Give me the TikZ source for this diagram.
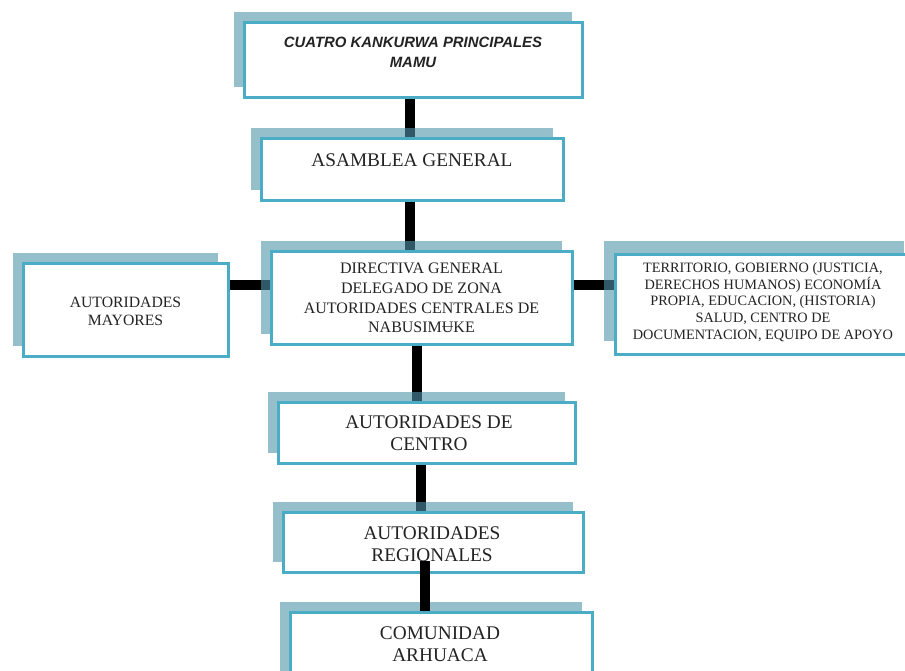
\documentclass[tikz,border=0pt]{standalone}
\usepackage{fontspec}
\setmainfont{Liberation Serif}
\newfontfamily\arialfont{Liberation Sans}
\definecolor{boxborder}{RGB}{75,172,198}
\definecolor{shadowbase}{RGB}{80,148,170}
\definecolor{txtc}{RGB}{35,35,35}
\pgfdeclarelayer{background}
\pgfsetlayers{background,main}
\tikzset{
  orgbox/.style={draw=boxborder, line width=3pt, fill=white, inner sep=0pt,
    preaction={draw=none, fill=shadowbase, fill opacity=0.6,
      transform canvas={shift={#1}}}},
  orgbox/.default={(-10pt,10pt)},
  conn/.style={draw=black, line width=10pt},
  txt/.style={text=txtc, align=center, inner sep=0pt},
  bigtxt/.style={txt, font=\fontsize{19.3}{21.5}\selectfont},
}
\begin{document}
\begin{tikzpicture}[x=1pt,y=-1pt]
\path[use as bounding box, clip] (0,0) rectangle (905,670);

% boxes
\node[orgbox, minimum width=338pt, minimum height=75pt] (b1) at (413,59.5) {};
\node[orgbox, minimum width=302pt, minimum height=62pt] (b2) at (412,169) {};
\node[orgbox, minimum width=301pt, minimum height=93pt] (b3) at (421.5,297.5) {};
\node[orgbox, minimum width=205pt, minimum height=93pt] (bl) at (125.5,309.5) {};
\node[orgbox={(-11pt,13pt)}, minimum width=300pt, minimum height=100pt] (br) at (765,304) {};
\node[orgbox, minimum width=297pt, minimum height=61pt] (b4) at (426.5,432.5) {};
\node[orgbox, minimum width=300pt, minimum height=60pt] (b5) at (433,542) {};
\node[orgbox, minimum width=302pt, minimum height=100pt] (b6) at (441,662) {};

% texts
\node[txt, font=\arialfont\bfseries\itshape\fontsize{14.9}{19.5}\selectfont] (t1) at (413,52.5)
  {CUATRO KANKURWA PRINCIPALES\\MAMU};
\node[bigtxt] (t2) at (412,160) {ASAMBLEA GENERAL};
\node[txt, font=\fontsize{16}{19.7}\selectfont] (t3) at (421.5,298)
  {DIRECTIVA GENERAL\\DELEGADO DE ZONA\\AUTORIDADES CENTRALES DE\\NABUSIMɄKE};
\node[txt, font=\fontsize{15.7}{18}\selectfont] (tl) at (125.5,311)
  {AUTORIDADES\\MAYORES};
\node[txt, font=\fontsize{14.3}{16.8}\selectfont] (tr) at (763,302)
  {TERRITORIO, GOBIERNO (JUSTICIA,\\DERECHOS HUMANOS) ECONOMÍA\\PROPIA, EDUCACION, (HISTORIA)\\SALUD, CENTRO DE\\DOCUMENTACION, EQUIPO DE APOYO};
\node[bigtxt] (t4) at (429,433) {AUTORIDADES DE\\CENTRO};
\node[bigtxt] (t5) at (432,544) {AUTORIDADES\\REGIONALES};
\node[bigtxt] (t6) at (440,644) {COMUNIDAD\\ARHUACA};

% connectors
\begin{pgfonlayer}{background}
\draw[conn] (b1.south -| 410,0) -- (b2.north -| 410,0);
\draw[conn] (b2.south -| 410,0) -- (b3.north -| 410,0);
\draw[conn] (bl.east |- 0,285) -- (b3.west |- 0,285);
\draw[conn] (b3.east |- 0,285) -- (br.west |- 0,285);
\draw[conn] (b3.south -| 417,0) -- (b4.north -| 417,0);
\draw[conn] (b4.south -| 421,0) -- (b5.north -| 421,0);
\end{pgfonlayer}
\coordinate (c5) at (425,561);
\draw[conn] (c5) -- (b6.north -| c5);
\end{tikzpicture}
\end{document}
